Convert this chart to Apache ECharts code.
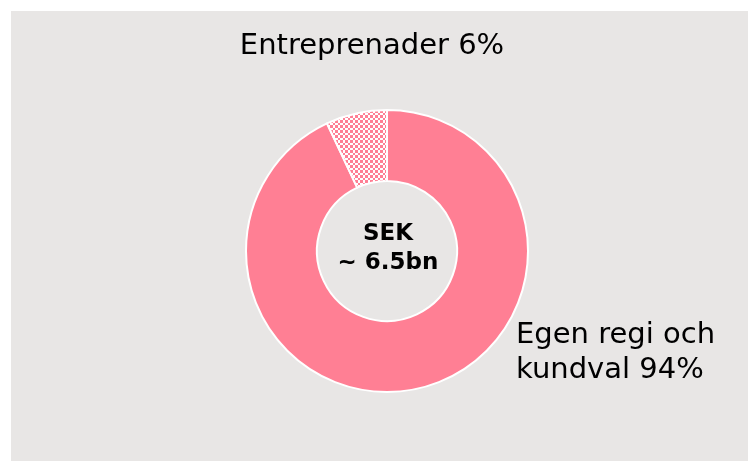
<!DOCTYPE html>
<html>
<head>
<meta charset="utf-8">
<script src="https://cdn.jsdelivr.net/npm/echarts@6/dist/echarts.min.js"></script>
<style>
  html, body { margin: 0; padding: 0; background: #fff; }
  #chart { width: 748px; height: 461px; }
</style>
</head>
<body>
<div id="chart"></div>
<script>
// 数据
const sliceNames = ['Egen regi och\nkundval', 'Entreprenader'];
const sliceValues = [93, 7];          // 图中扇区实际所占比例
const sliceLabelPct = [94, 6];        // 标签上写的百分比
const centerLines = ['SEK', '~ 6.5bn'];

const pink = '#FF7F94';

// 棋盘格图案（小份额）
function makeChecker() {
    const c = document.createElement('canvas');
    c.width = 5; c.height = 5;
    const ctx = c.getContext('2d');
    ctx.fillStyle = '#ffffff';
    ctx.fillRect(0, 0, 5, 5);
    ctx.fillStyle = pink;
    ctx.fillRect(0, 0, 3, 3);
    ctx.fillRect(3, 3, 2, 2);
    return c;
}

const chart = echarts.init(document.getElementById('chart'));

const data = sliceNames.map((name, i) => ({
    name,
    value: sliceValues[i],
    pct: sliceLabelPct[i],
    itemStyle: i === 1 ? { color: { image: makeChecker(), repeat: 'repeat' } } : { color: pink }
}));

const option = {
    animation: false,
    graphic: [
        {
            type: 'rect',
            shape: { x: 11, y: 11, width: 737, height: 450 },
            style: { fill: '#E8E6E5' },
            z: -10
        },
        {
            type: 'text',
            x: 388,
            y: 249,
            z: 10,
            style: {
                text: centerLines.join('\n'),
                font: 'bold 23px "DejaVu Sans"',
                lineHeight: 29,
                fill: '#000',
                align: 'center',
                verticalAlign: 'middle'
            }
        }
    ],
    series: [{
        type: 'pie',
        center: [387, 251],
        radius: [70, 141],
        startAngle: 90,
        clockwise: true,
        data: data,
        itemStyle: { borderColor: '#fff', borderWidth: 2 },
        label: {
            show: true,
            position: 'outside',
            formatter: p => p.name + ' ' + p.data.pct + '%',
            fontFamily: 'DejaVu Sans',
            fontSize: 29,
            lineHeight: 35,
            color: '#000'
        },
        labelLine: { show: false },
        labelLayout: function (params) {
            if (params.dataIndex === 1) {
                return { x: 372, y: 46, align: 'center', verticalAlign: 'middle' };
            }
            return { x: 516, y: 353, align: 'left', verticalAlign: 'middle' };
        },
        emphasis: { disabled: true }
    }]
};

chart.setOption(option);
</script>
</body>
</html>
